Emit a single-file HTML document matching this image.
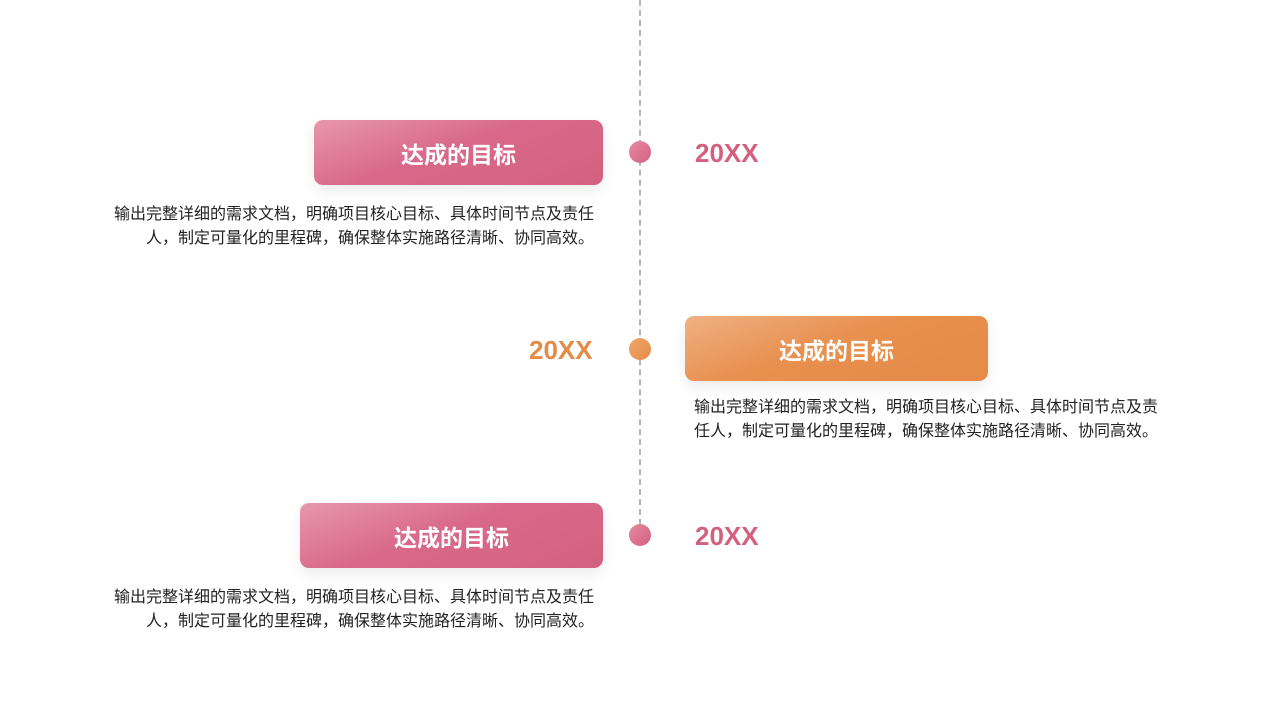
<!DOCTYPE html>
<html><head><meta charset="utf-8"><style>
body{margin:0;width:1280px;height:720px;background:#fff;position:relative;overflow:hidden;font-family:"Liberation Sans","Noto Sans CJK SC",sans-serif}
.line{position:absolute;left:639px;top:0;height:525px;border-left:2px dashed #b5b5b5}
.dot{position:absolute;width:22px;height:22px;border-radius:50%}
.pk{background:linear-gradient(135deg,#e68aa3,#d4607f)}
.or{background:linear-gradient(135deg,#f0a86c,#e58a47)}
.box{position:absolute;height:65px;border-radius:9px;color:#fff;font-weight:bold;font-size:23px;display:flex;align-items:center;justify-content:center;box-shadow:0 6px 14px rgba(0,0,0,0.08)}
.bpk{background:linear-gradient(160deg,#e797ab 0%,#d9698a 45%,#d4607f 100%)}
.bor{background:linear-gradient(160deg,#efb183 0%,#e8904f 45%,#e58a47 100%)}
.yr{position:absolute;font-weight:bold;font-size:26px}
.t{position:absolute;font-size:16px;line-height:24px;color:#222;width:500px}
</style></head><body>
<div class="line"></div>
<div class="dot pk" style="left:629px;top:141px"></div>
<div class="dot or" style="left:629px;top:338px"></div>
<div class="dot pk" style="left:629px;top:524px"></div>

<div class="box bpk" style="left:314px;top:120px;width:289px">达成的目标</div>
<div class="yr" style="left:695px;top:138px;color:#d4607f">20XX</div>
<div class="t" style="left:94px;top:203px;text-align:right">输出完整详细的需求文档，明确项目核心目标、具体时间节点及责任<br>人，制定可量化的里程碑，确保整体实施路径清晰、协同高效。</div>

<div class="box bor" style="left:685px;top:316px;width:303px">达成的目标</div>
<div class="yr" style="left:529px;top:335px;color:#e58a47">20XX</div>
<div class="t" style="left:694px;top:396px;width:480px">输出完整详细的需求文档，明确项目核心目标、具体时间节点及责<br>任人，制定可量化的里程碑，确保整体实施路径清晰、协同高效。</div>

<div class="box bpk" style="left:300px;top:503px;width:303px">达成的目标</div>
<div class="yr" style="left:695px;top:521px;color:#d4607f">20XX</div>
<div class="t" style="left:94px;top:586px;text-align:right">输出完整详细的需求文档，明确项目核心目标、具体时间节点及责任<br>人，制定可量化的里程碑，确保整体实施路径清晰、协同高效。</div>
</body></html>
